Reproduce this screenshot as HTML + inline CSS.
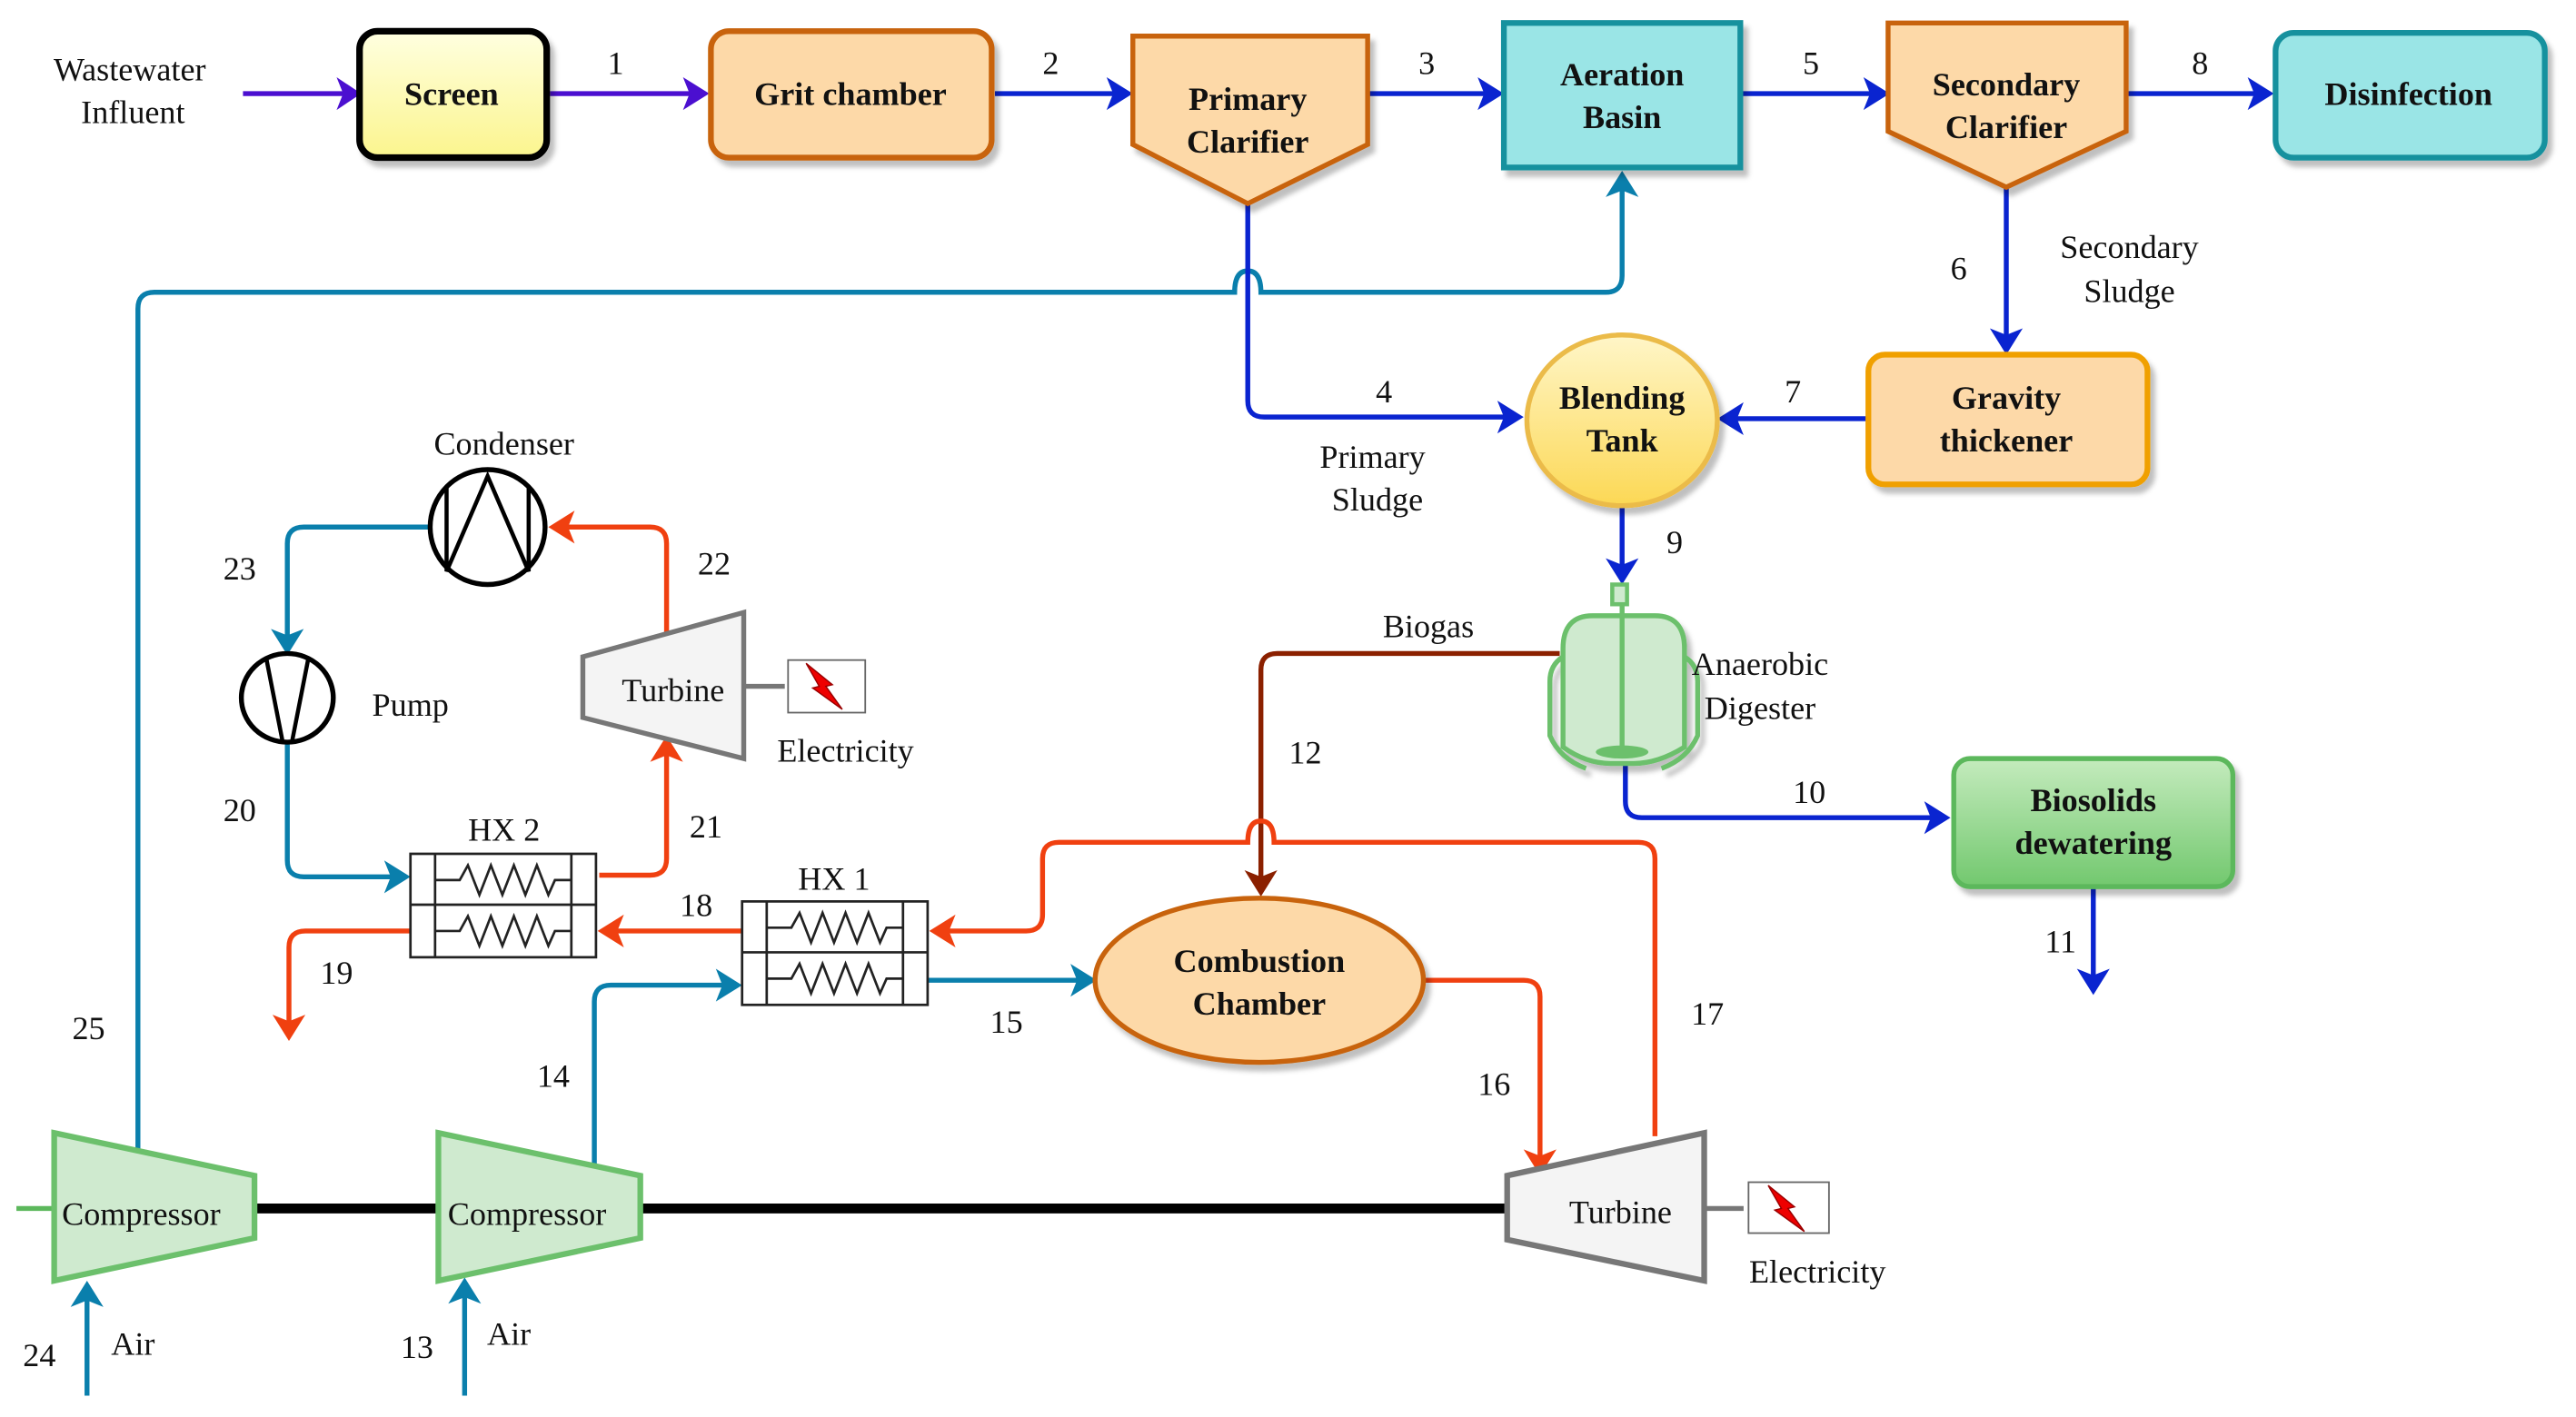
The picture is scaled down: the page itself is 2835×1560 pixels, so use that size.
<!DOCTYPE html>
<html><head><meta charset="utf-8"><style>
html,body{margin:0;padding:0;background:#fff;}
svg{display:block;}
text{font-family:"Liberation Serif",serif;fill:#111;}
.b{font-weight:bold;font-size:20px;}
.n{font-size:20px;}
</style></head><body>
<svg width="2835" height="1560" viewBox="0 0 1569 863" preserveAspectRatio="none" xmlns="http://www.w3.org/2000/svg">
<defs>
<linearGradient id="yel" x1="0" y1="0" x2="0" y2="1"><stop offset="0" stop-color="#ffffe0"/><stop offset="1" stop-color="#fbf58e"/></linearGradient>
<linearGradient id="bl" x1="0" y1="0" x2="0" y2="1"><stop offset="0" stop-color="#fff6c8"/><stop offset="1" stop-color="#fcd855"/></linearGradient>
<linearGradient id="gr" x1="0" y1="0" x2="0" y2="1"><stop offset="0" stop-color="#c4ebbd"/><stop offset="1" stop-color="#72c86e"/></linearGradient>
<filter id="sh" x="-10%" y="-10%" width="130%" height="130%"><feDropShadow dx="3" dy="4" stdDeviation="1.5" flood-color="#000" flood-opacity="0.25"/></filter>
</defs>
<g fill="none" stroke-width="3">
<path d="M148,57H210" stroke="#4b0fd0"/><path d="M205,47L220,57L205,67L209,57z" fill="#4b0fd0"/>
<path d="M335,57H422" stroke="#4b0fd0"/><path d="M416,47L432,57L416,67L420,57z" fill="#4b0fd0"/>
<path d="M606,57H680" stroke="#0a24d0"/><path d="M674,47L690,57L674,67L678,57z" fill="#0a24d0"/>
<path d="M834,57H908" stroke="#0a24d0"/><path d="M900,47L916,57L900,67L904,57z" fill="#0a24d0"/>
<path d="M1061,57H1143" stroke="#0a24d0"/><path d="M1135,47L1151,57L1135,67L1139,57z" fill="#0a24d0"/>
<path d="M1296,57H1376" stroke="#0a24d0"/><path d="M1369,47L1385,57L1369,67L1373,57z" fill="#0a24d0"/>
<path d="M84,700V188Q84,178 94,178H752Q752,165 760,165Q768,165 768,178H978Q988,178 988,168V112" stroke="#0a7fac"/>
<path d="M978,120L988,104L998,120L988,116z" fill="#0a7fac"/>
<path d="M760,124V244Q760,254 770,254H918" stroke="#0a24d0"/><path d="M912,244L928,254L912,264L916,254z" fill="#0a24d0"/>
<path d="M1222,114V206" stroke="#0a24d0"/><path d="M1212,200L1222,216L1232,200L1222,204z" fill="#0a24d0"/>
<path d="M1137,255H1056" stroke="#0a24d0"/><path d="M1062,245L1046,255L1062,265L1058,255z" fill="#0a24d0"/>
<path d="M988,308V346" stroke="#0a24d0"/><path d="M978,340L988,356L998,340L988,344z" fill="#0a24d0"/>
<path d="M990,466V488Q990,498 1000,498H1178" stroke="#0a24d0"/><path d="M1172,488L1188,498L1172,508L1176,498z" fill="#0a24d0"/>
<path d="M1275,540V596" stroke="#0a24d0"/><path d="M1265,590L1275,606L1285,590L1275,594z" fill="#0a24d0"/>
<path d="M950,398H778Q768,398 768,408V536" stroke="#8b2000"/><path d="M758,530L768,546L778,530L768,534z" fill="#8b2000"/>
<path d="M1008,692V523Q1008,513 998,513H776Q776,500 768,500Q760,500 760,513H645Q635,513 635,523V557Q635,567 625,567H576" stroke="#f04010"/>
<path d="M582,557L566,567L582,577L578,567z" fill="#f04010"/>
<path d="M452,567H374" stroke="#f04010"/><path d="M380,557L364,567L380,577L376,567z" fill="#f04010"/>
<path d="M565,597H658" stroke="#0a7fac"/><path d="M652,587L668,597L652,607L656,597z" fill="#0a7fac"/>
<path d="M362,715V610Q362,600 372,600H442" stroke="#0a7fac"/><path d="M436,590L452,600L436,610L440,600z" fill="#0a7fac"/>
<path d="M867,597H928Q938,597 938,607V706" stroke="#f04010"/><path d="M928,700L938,716L948,700L938,704z" fill="#f04010"/>
<path d="M250,567H186Q176,567 176,577V624" stroke="#f04010"/><path d="M166,618L176,634L186,618L176,622z" fill="#f04010"/>
<path d="M175,453V524Q175,534 185,534H240" stroke="#0a7fac"/><path d="M234,524L250,534L234,544L238,534z" fill="#0a7fac"/>
<path d="M365,533H396Q406,533 406,523V458" stroke="#f04010"/><path d="M396,464L406,448L416,464L406,460z" fill="#f04010"/>
<path d="M406,390V331Q406,321 396,321H344" stroke="#f04010"/><path d="M350,311L334,321L350,331L346,321z" fill="#f04010"/>
<path d="M262,321H185Q175,321 175,331V389" stroke="#0a7fac"/><path d="M165,383L175,399L185,383L175,387z" fill="#0a7fac"/>
<path d="M283,850V788" stroke="#0a7fac"/><path d="M273,794L283,778L293,794L283,790z" fill="#0a7fac"/>
<path d="M53,850V790" stroke="#0a7fac"/><path d="M43,796L53,780L63,796L53,792z" fill="#0a7fac"/>
</g>
<path d="M155,736H267M390,736H918" stroke="#000" stroke-width="6"/>
<path d="M10,736H33" stroke="#5cb85c" stroke-width="3"/>
<rect x="219" y="19" width="114" height="77" rx="11" fill="url(#yel)" stroke="#000" stroke-width="4" filter="url(#sh)"/>
<rect x="433" y="19" width="171" height="77" rx="11" fill="#fdd9a8" stroke="#c8640a" stroke-width="3.5" filter="url(#sh)"/>
<path d="M690,22H833V88L760,124L690,88z" fill="#fdd9a8" stroke="#c8640a" stroke-width="3" filter="url(#sh)"/>
<rect x="916" y="14" width="144" height="88" fill="#9ae5e6" stroke="#19919e" stroke-width="3.5" filter="url(#sh)"/>
<path d="M1150,14H1295V80L1222,114L1150,80z" fill="#fdd9a8" stroke="#c8640a" stroke-width="3" filter="url(#sh)"/>
<rect x="1386" y="20" width="164" height="76" rx="11" fill="#9ae5e6" stroke="#19919e" stroke-width="3.5" filter="url(#sh)"/>
<ellipse cx="988" cy="256" rx="58" ry="52" fill="url(#bl)" stroke="#ebbb4a" stroke-width="3" filter="url(#sh)"/>
<rect x="1138" y="216" width="170" height="79" rx="10" fill="#fdd9a8" stroke="#f0a000" stroke-width="3.5" filter="url(#sh)"/>
<rect x="1190" y="462" width="170" height="78" rx="10" fill="url(#gr)" stroke="#5cb85c" stroke-width="3" filter="url(#sh)"/>
<ellipse cx="767" cy="597" rx="100" ry="50" fill="#fdd9a8" stroke="#c8640a" stroke-width="3" filter="url(#sh)"/>
<g stroke="#6cc06c" stroke-width="3" fill="#cfeacf" filter="url(#sh)">
<path d="M952,395Q952,375 970,375H1008Q1026,375 1026,395V455Q1010,465 995,465H981Q966,465 952,455z"/>
<path d="M952,400Q944,405 944,415V448Q950,462 966,468M1026,400Q1034,405 1034,415V448Q1028,462 1012,468" fill="none"/>
</g>
<rect x="982" y="356" width="9" height="12" fill="#cfeacf" stroke="#6cc06c" stroke-width="2.5"/>
<path d="M988,368V458" stroke="#6cc06c" stroke-width="3"/>
<ellipse cx="988" cy="458" rx="16" ry="4" fill="#6cc06c"/>
<g stroke="#222" stroke-width="1.5" fill="#fff">
<rect x="250" y="520" width="113" height="63"/><path d="M250,551H363M265,520V583M348,520V583"/>
<rect x="452" y="549" width="113" height="63"/><path d="M452,580H565M467,549V612M550,549V612"/>
</g>
<g stroke="#222" stroke-width="1.5" fill="none">
<path d="M265,536H280L285,527L292,545L299,527L306,545L313,527L320,545L327,527L334,545L338,536H348"/>
<path d="M265,567H280L285,558L292,576L299,558L306,576L313,558L320,576L327,558L334,576L338,567H348"/>
<path d="M467,565H482L487,556L494,574L501,556L508,574L515,556L522,574L529,556L536,574L540,565H550"/>
<path d="M467,596H482L487,587L494,605L501,587L508,605L515,587L522,605L529,587L536,605L540,596H550"/>
</g>
<circle cx="297" cy="321" r="35" fill="#fff" stroke="#000" stroke-width="3"/>
<path d="M272,297V348L297,290L322,348V297" fill="none" stroke="#000" stroke-width="2.5"/>
<ellipse cx="175" cy="425" rx="28" ry="27" fill="#fff" stroke="#000" stroke-width="3"/>
<path d="M162,400L172,451M188,400L178,451" stroke="#000" stroke-width="2.5"/>
<path d="M355,400L453,373V462L355,437z" fill="#f4f4f4" stroke="#777" stroke-width="3"/>
<path d="M453,418H478" stroke="#777" stroke-width="3"/>
<rect x="480" y="402" width="47" height="32" fill="#fff" stroke="#666" stroke-width="1"/>
<path d="M491,404L499,418L495,419L513,432L503,418L507,417z" fill="#e00" stroke="#900" stroke-width="0.8"/>
<path d="M33,690L155,716V754L33,780z" fill="#cfeacf" stroke="#6cc06c" stroke-width="3.5"/>
<path d="M267,690L390,716V754L267,780z" fill="#cfeacf" stroke="#6cc06c" stroke-width="3.5"/>
<path d="M918,716L1038,690V780L918,755z" fill="#f4f4f4" stroke="#777" stroke-width="3.5"/>
<path d="M1038,736H1062" stroke="#777" stroke-width="3"/>
<rect x="1065" y="720" width="49" height="31" fill="#fff" stroke="#666" stroke-width="1"/>
<path d="M1077,722L1085,736L1081,737L1099,750L1089,736L1093,735z" fill="#e00" stroke="#900" stroke-width="0.8"/>
<g text-anchor="middle">
<text class="n" x="79" y="49">Wastewater</text><text class="n" x="81" y="75">Influent</text>
<text class="b" x="275" y="64">Screen</text>
<text class="b" x="518" y="64">Grit chamber</text>
<text class="b" x="760" y="67">Primary</text><text class="b" x="760" y="93">Clarifier</text>
<text class="b" x="988" y="52">Aeration</text><text class="b" x="988" y="78">Basin</text>
<text class="b" x="1222" y="58">Secondary</text><text class="b" x="1222" y="84">Clarifier</text>
<text class="b" x="1467" y="64">Disinfection</text>
<text class="b" x="988" y="249">Blending</text><text class="b" x="988" y="275">Tank</text>
<text class="b" x="1222" y="249">Gravity</text><text class="b" x="1222" y="275">thickener</text>
<text class="b" x="1275" y="494">Biosolids</text><text class="b" x="1275" y="520">dewatering</text>
<text class="b" x="767" y="592">Combustion</text><text class="b" x="767" y="618">Chamber</text>
<text class="n" x="1297" y="157">Secondary</text><text class="n" x="1297" y="184">Sludge</text>
<text class="n" x="836" y="285">Primary</text><text class="n" x="839" y="311">Sludge</text>
<text class="n" x="1072" y="411">Anaerobic</text><text class="n" x="1072" y="438">Digester</text>
<text class="n" x="870" y="388">Biogas</text>
<text class="n" x="307" y="277">Condenser</text>
<text class="n" x="250" y="436">Pump</text>
<text class="n" x="410" y="427">Turbine</text>
<text class="n" x="515" y="464">Electricity</text>
<text class="n" x="307" y="512">HX 2</text>
<text class="n" x="508" y="542">HX 1</text>
<text class="n" x="86" y="746">Compressor</text>
<text class="n" x="321" y="746">Compressor</text>
<text class="n" x="987" y="745">Turbine</text>
<text class="n" x="1107" y="781">Electricity</text>
<text class="n" x="310" y="819">Air</text>
<text class="n" x="81" y="825">Air</text>
<text class="n" x="375" y="45">1</text><text class="n" x="640" y="45">2</text><text class="n" x="869" y="45">3</text>
<text class="n" x="1103" y="45">5</text><text class="n" x="1340" y="45">8</text>
<text class="n" x="843" y="245">4</text><text class="n" x="1193" y="170">6</text><text class="n" x="1092" y="245">7</text>
<text class="n" x="1020" y="337">9</text><text class="n" x="1102" y="489">10</text><text class="n" x="1255" y="580">11</text>
<text class="n" x="795" y="465">12</text><text class="n" x="254" y="827">13</text><text class="n" x="337" y="662">14</text>
<text class="n" x="613" y="629">15</text><text class="n" x="910" y="667">16</text><text class="n" x="1040" y="624">17</text>
<text class="n" x="424" y="558">18</text><text class="n" x="205" y="599">19</text><text class="n" x="146" y="500">20</text>
<text class="n" x="430" y="510">21</text><text class="n" x="435" y="350">22</text><text class="n" x="146" y="353">23</text>
<text class="n" x="24" y="832">24</text><text class="n" x="54" y="633">25</text>
</g>
</svg>
</body></html>
